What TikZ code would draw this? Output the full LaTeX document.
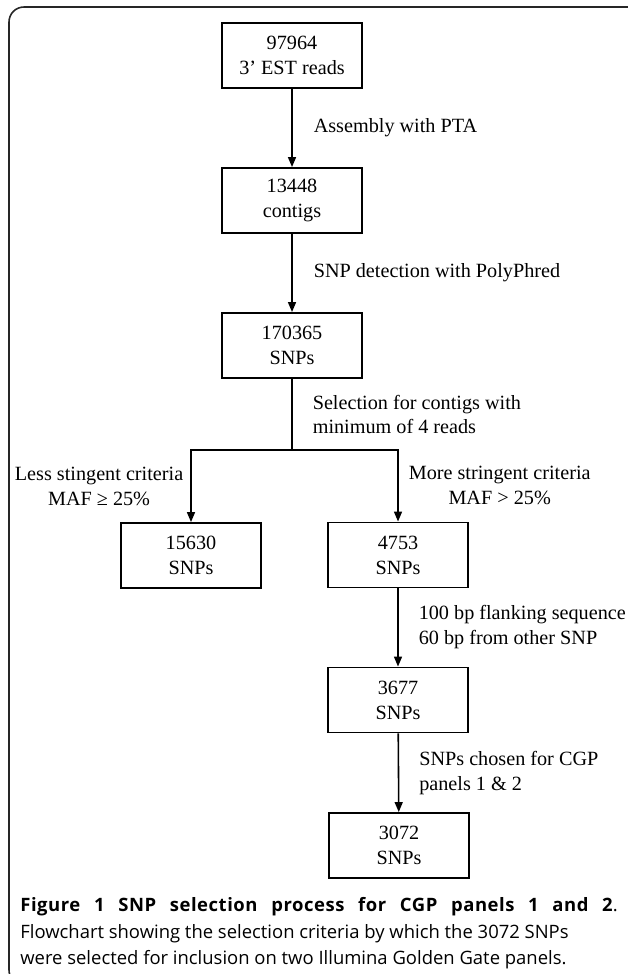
\documentclass[tikz,border=0pt]{standalone}
\usepackage{fontspec}
\setmainfont{Liberation Serif}
\newfontfamily\captionfont{Open Sans}
\newfontfamily\titlefont{Open Sans}[LetterSpace=3.0]
\usetikzlibrary{arrows.meta}

\begin{document}
\begin{tikzpicture}[x=0.02cm,y=-0.02cm,every node/.style={font=\fontsize{11.5}{14.2}\selectfont}]

\tikzstyle{stage}=[draw,line width=1.1pt,minimum width=2.8cm,minimum height=1.3cm,align=center,inner sep=0pt]
\tikzstyle{flow}=[-{Triangle[length=0.2cm,width=0.16cm]},line width=0.9pt]
\tikzstyle{crit}=[align=left,inner sep=0pt]
\tikzstyle{capt}=[anchor=west,inner sep=0pt,align=left,font=\captionfont\fontsize{10.5}{14.8}\selectfont]

\useasboundingbox (0,0) rectangle (627,974);

% frame
\draw[line width=0.9pt,black!85,rounded corners=0.3cm] (660,7) -- (9,7) -- (9,985) -- (60,985);

% stages
\node (reads) at (292,55.5) [stage] {97964\\3’ EST reads};
\node (contigs) at (292,200.5) [stage] {13448\\contigs};
\node (snps) at (292,345.5) [stage] {170365\\SNPs};
\node (less) at (191,555.5) [stage] {15630\\SNPs};
\node (more) at (398,555) [stage] {4753\\SNPs};
\node (flank) at (398,700) [stage] {3677\\SNPs};
\node (final) at (399,845.5) [stage] {3072\\SNPs};

\coordinate (fork) at (292,450);

% arrows
\draw[flow] (reads) -- node[crit,right,xshift=0.42cm]{Assembly with PTA} (contigs);
\draw[flow] (contigs) -- node[crit,right,xshift=0.42cm]{SNP detection with PolyPhred} (snps);
\draw[line width=0.9pt] (snps) -- node[crit,right,xshift=0.4cm]{Selection for contigs with\\minimum of 4 reads} (fork);
\draw[flow] (fork) -| node[pos=0.75,crit,left,align=center,xshift=-0.14cm]{Less stingent criteria\\MAF ≥ 25\%} (less);
\draw[flow] (fork) -| node[pos=0.75,crit,right,align=center,xshift=0.2cm]{More stringent criteria\\MAF > 25\%} (more);
\draw[flow] (more) -- node[crit,right,xshift=0.4cm]{100 bp flanking sequence\\60 bp from other SNP} (flank);
\draw[flow] (flank) -- node[crit,right,xshift=0.4cm]{SNPs chosen for CGP\\panels 1 \& 2} (final);

% caption
\node (title) at (20,907) [capt,font=\titlefont\fontsize{10.5}{14.8}\selectfont] {\makebox[340pt][s]{\bfseries Figure 1 SNP selection process for CGP panels 1 and 2\mdseries.}};
\node (legend) at (20,947) [capt] {Flowchart showing the selection criteria by which the 3072 SNPs\\were selected for inclusion on two Illumina Golden Gate panels.};
\end{tikzpicture}
\end{document}
